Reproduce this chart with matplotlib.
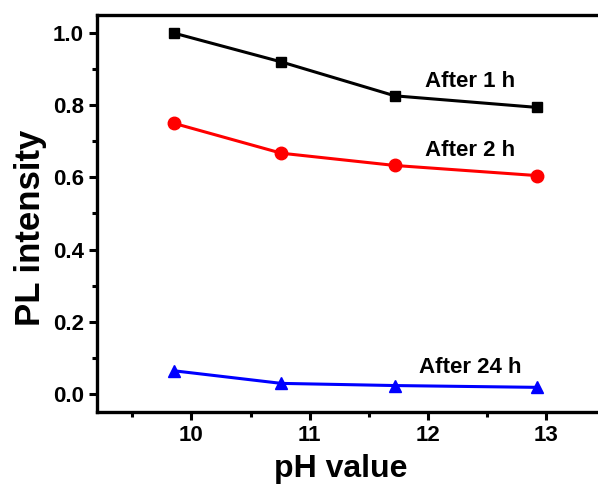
import matplotlib.pyplot as plt
from matplotlib.ticker import MultipleLocator

plt.rcParams['font.family'] = ['Liberation Sans', 'DejaVu Sans']
plt.rcParams['font.weight'] = 'bold'

# pH values
ph = [9.85, 10.76, 11.72, 12.92]

after_1h = [1.0, 0.92, 0.826, 0.794]
after_2h = [0.75, 0.667, 0.633, 0.605]
after_24h = [0.064, 0.029, 0.023, 0.018]

fig = plt.figure(figsize=(5.98, 4.84), dpi=100)
# axes run past the right edge, as in the reference crop
ax = fig.add_axes([0.162, 0.149, 0.85, 0.820])

ax.plot(ph, after_1h, color='black', lw=2.2, marker='s', ms=7.5)
ax.plot(ph, after_2h, color='red', lw=2.2, marker='o', ms=9)
ax.plot(ph, after_24h, color='blue', lw=2.2, marker='^', ms=9)

ax.text(12.36, 0.866, 'After 1 h', fontsize=16, fontweight='bold', ha='center', va='center')
ax.text(12.36, 0.675, 'After 2 h', fontsize=16, fontweight='bold', ha='center', va='center')
ax.text(12.36, 0.074, 'After 24 h', fontsize=16, fontweight='bold', ha='center', va='center')

ax.set_xlim(9.2, 13.5)
ax.set_ylim(-0.05, 1.05)
ax.xaxis.set_major_locator(MultipleLocator(1))
ax.xaxis.set_minor_locator(MultipleLocator(0.5))
ax.yaxis.set_major_locator(MultipleLocator(0.2))
ax.yaxis.set_minor_locator(MultipleLocator(0.1))
ax.yaxis.set_major_formatter(plt.FormatStrFormatter('%.1f'))

for s in ax.spines.values():
    s.set_linewidth(2.4)
ax.tick_params(which='major', direction='out', length=6, width=2.2, labelsize=16)
ax.tick_params(which='minor', direction='out', length=3.5, width=2.2)

ax.set_xlabel('pH value', fontsize=23, fontweight='bold', labelpad=6)
ax.set_ylabel('PL intensity', fontsize=25, fontweight='bold', labelpad=4)
ax.xaxis.label.set_x(0.48)
ax.yaxis.label.set_y(0.465)

fig.savefig('out.png', dpi=100)
